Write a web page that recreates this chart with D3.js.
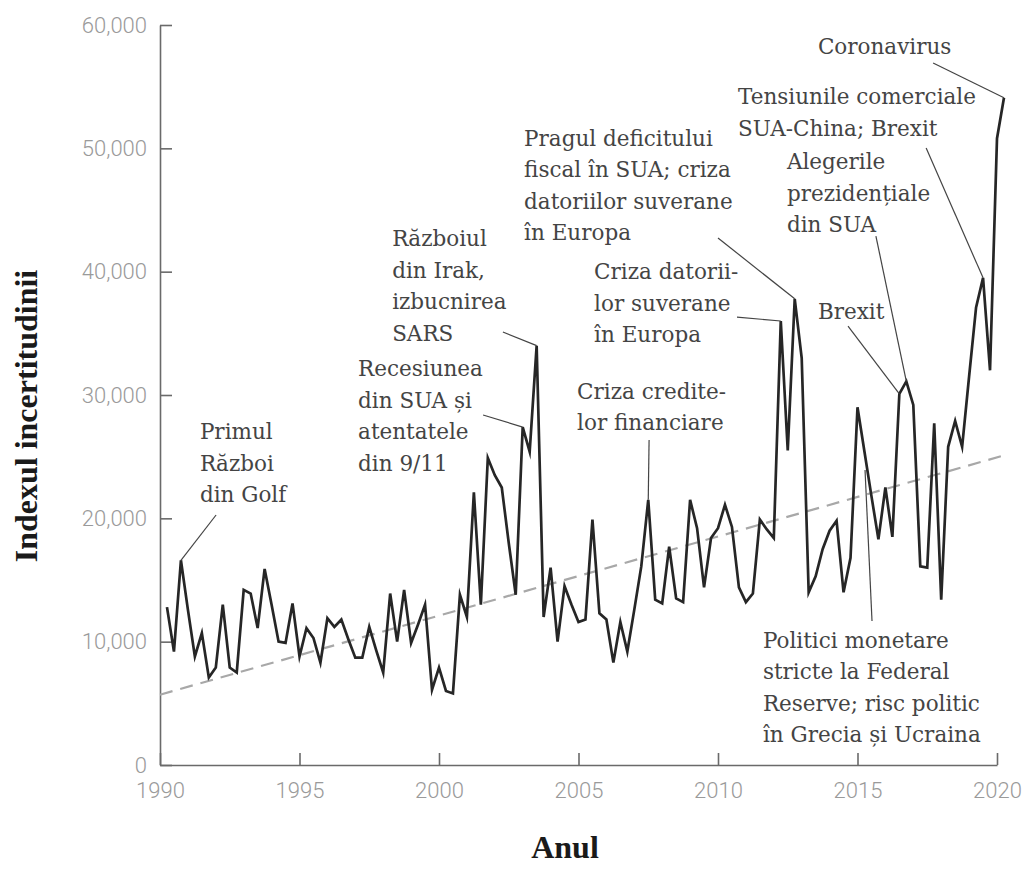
<!DOCTYPE html>
<html>
<head>
<meta charset="utf-8">
<script src="https://cdn.jsdelivr.net/npm/d3@7"></script>
<style>
  body { margin: 0; background: #fff; }
  .axis path, .axis line { stroke: #6a6a6a; stroke-width: 1.6; }
  .axis text { font-family: Roboto, "Liberation Sans", sans-serif; font-weight: 300; font-size: 22px; fill: #9a9a9a; }
  .note { font-family: "DejaVu Serif", serif; font-size: 21.5px; fill: #444; }
  .title { font-family: "Liberation Serif", serif; font-weight: bold; font-size: 32px; fill: #1a1a1a; }
</style>
</head>
<body>
<svg id="chart" width="1026" height="870"></svg>
<script>
// quarterly uncertainty index, 1990 Q1 .. 2020 Q1
var firstYear = 1990;
var uncertainty = [
  12800, 9200, 16600, 12600, 8800, 10700, 7100, 7900, 13000, 7900,
  7500, 14200, 13900, 11100, 15900, 13000, 10000, 9900, 13100, 8800,
  11100, 10300, 8300, 11900, 11200, 11800, 10200, 8700, 8700, 11200,
  9300, 7500, 13900, 10000, 14200, 9900, 11400, 13000, 6100, 7900,
  6000, 5800, 13800, 12000, 22100, 13000, 24900, 23500, 22500, 18000,
  13800, 27400, 25400, 34000, 12000, 16000, 10000, 14500, 13000, 11600,
  11800, 19900, 12300, 11800, 8300, 11600, 9200, 12600, 16100, 21500,
  13400, 13100, 17700, 13500, 13200, 21500, 19200, 14400, 18400, 19200,
  21100, 19300, 14400, 13200, 13900, 19900, 19100, 18400, 36000, 25500,
  37800, 33000, 14000, 15300, 17500, 19000, 19800, 14000, 16800, 29000,
  25400, 21800, 18300, 22500, 18500, 30100, 31100, 29200, 16100, 16000,
  27700, 13400, 25800, 27900, 25800, 31500, 37100, 39500, 32000, 50800,
  54100
];

// linear trend (dashed)
var trendYears = [1990, 2020.25];
var trendValues = [5700, 25100];

var xTickYears = [1990, 1995, 2000, 2005, 2010, 2015, 2020];
var yTickValues = [0, 10000, 20000, 30000, 40000, 50000, 60000];

// annotations: text lines, text anchor (year, value), leader start, leader end (series index or explicit)
var notes = [
  {lines: ["Primul", "Război", "din Golf"], tx: 1991.43, ty: 26430, lx: 1992.01, ly: 20270, at: 2},
  {lines: ["Recesiunea", "din SUA și", "atentatele", "din 9/11"], tx: 1997.10, ty: 31540, lx: 2001.58, ly: 28380, at: 51},
  {lines: ["Războiul", "din Irak,", "izbucnirea", "SARS"], tx: 1998.32, ty: 42080, lx: 2002.29, ly: 35110, at: 53},
  {lines: ["Pragul deficitului", "fiscal în SUA; criza", "datoriilor suverane", "în Europa"], tx: 2003.05, ty: 50190, lx: 2010.0, ly: 42730, at: 90},
  {lines: ["Criza datorii-", "lor suverane", "în Europa"], tx: 2005.56, ty: 39400, lx: 2010.68, ly: 36320, at: 88},
  {lines: ["Criza credite-", "lor financiare"], tx: 2004.95, ty: 29680, lx: 2007.53, ly: 26350, at: 69},
  {lines: ["Brexit"], tx: 2013.58, ty: 36160, lx: 2014.66, ly: 35590, at: 105},
  {lines: ["Alegerile", "prezidențiale", "din SUA"], tx: 2012.47, ty: 48320, lx: 2015.66, ly: 42890, at: 106},
  {lines: ["Tensiunile comerciale", "SUA-China; Brexit"], tx: 2010.72, ty: 53590, lx: 2017.46, ly: 50030, at: 117},
  {lines: ["Coronavirus"], tx: 2013.58, ty: 57650, lx: 2017.71, ly: 56920, at: 120},
  {lines: ["Politici monetare", "stricte la Federal", "Reserve; risc politic", "în Grecia și Ucraina"], tx: 2011.61, ty: 9490, lx: 2015.52, ly: 11680, ex: 2015.27, ey: 23920}
];

var margin = {t: 25, r: 29, b: 105, l: 160};
var width = 1026 - margin.l - margin.r,
    height = 870 - margin.t - margin.b;

var svg = d3.select("#chart");
var g = svg.append("g").attr("transform", "translate(" + margin.l + "," + margin.t + ")");

var points = uncertainty.map(function(v, i) {
  return {year: firstYear + (i + 1) / 4, value: v};
});

var x = d3.scaleLinear().domain([1990, 2020]).range([0, width]);
var y = d3.scaleLinear().domain([0, 60000]).range([height, 0]);

// axes
var xAxis = d3.axisBottom(x).tickValues(xTickYears).tickFormat(d3.format("d"))
  .tickSizeInner(-12).tickSizeOuter(0).tickPadding(17);
var yAxis = d3.axisLeft(y).tickValues(yTickValues).tickFormat(d3.format(","))
  .tickSizeInner(-12).tickSizeOuter(0).tickPadding(13);

g.append("g").attr("class", "axis").attr("transform", "translate(0," + height + ")").call(xAxis);
g.append("g").attr("class", "axis").call(yAxis);

// trend line
var trend = trendYears.map(function(t, i) { return {year: t, value: trendValues[i]}; });
var line = d3.line().x(function(d) { return x(d.year); }).y(function(d) { return y(d.value); });

g.append("path")
  .datum(trend)
  .attr("d", line)
  .attr("fill", "none")
  .attr("stroke", "#a8a8a8")
  .attr("stroke-width", 2.2)
  .attr("stroke-dasharray", "13,8");

// the index itself
g.append("path")
  .datum(points)
  .attr("d", line)
  .attr("fill", "none")
  .attr("stroke", "#262626")
  .attr("stroke-width", 2.7)
  .attr("stroke-linejoin", "miter")
  .attr("stroke-miterlimit", 6);

// leaders
notes.forEach(function(n) {
  var end = n.at !== undefined ? points[n.at] : {year: n.ex, value: n.ey};
  g.append("line")
    .attr("x1", x(n.lx)).attr("y1", y(n.ly))
    .attr("x2", x(end.year)).attr("y2", y(end.value))
    .attr("stroke", "#444")
    .attr("stroke-width", 1.2);
});

// annotation texts
notes.forEach(function(n) {
  var t = g.append("text").attr("class", "note")
    .attr("x", x(n.tx)).attr("y", y(n.ty));
  n.lines.forEach(function(s, i) {
    t.append("tspan").attr("x", x(n.tx)).attr("dy", i === 0 ? 0 : 31.5).text(s);
  });
});

// axis titles
svg.append("text").attr("class", "title")
  .attr("text-anchor", "middle")
  .attr("transform", "translate(37,416) rotate(-90)")
  .text("Indexul incertitudinii");

svg.append("text").attr("class", "title")
  .attr("text-anchor", "middle")
  .attr("x", 565).attr("y", 858)
  .text("Anul");
</script>
</body>
</html>
